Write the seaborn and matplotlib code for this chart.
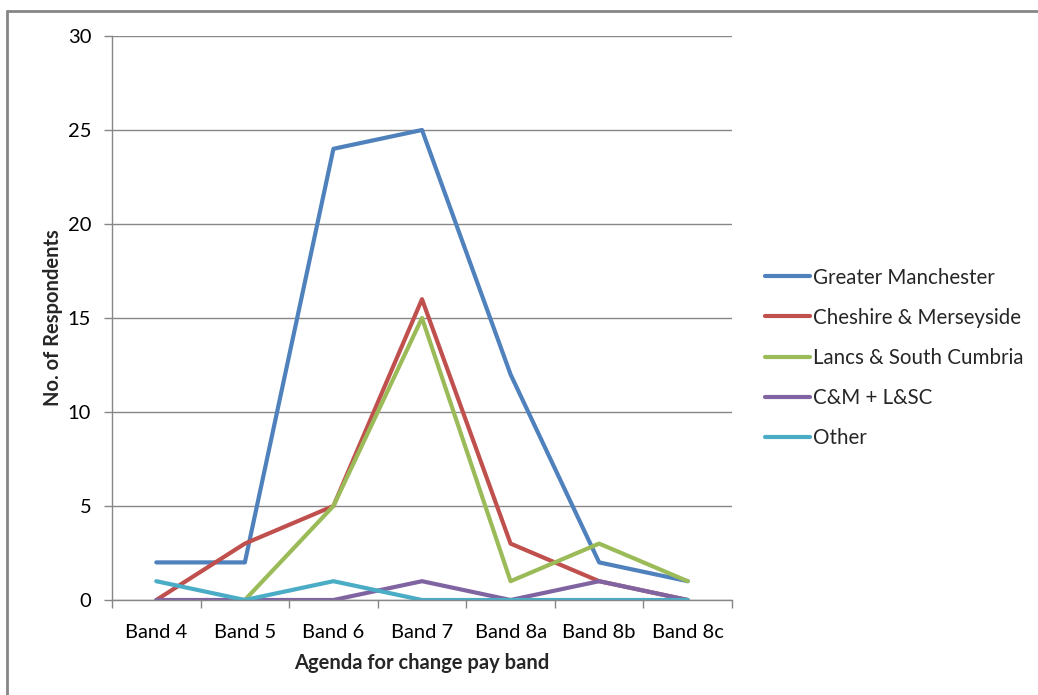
import numpy as np
import pandas as pd
import matplotlib
matplotlib.use("Agg")
import matplotlib.pyplot as plt
from matplotlib.lines import Line2D
from matplotlib.ticker import FixedLocator, NullFormatter
import seaborn as sns

bands = ["Band 4", "Band 5", "Band 6", "Band 7", "Band 8a", "Band 8b", "Band 8c"]
greater_manchester = [2, 2, 24, 25, 12, 2, 1]
cheshire_merseyside = [0, 3, 5, 16, 3, 1, 0]
lancs_south_cumbria = [np.nan, 0, 5, 15, 1, 3, 1]
cm_lsc = [0, 0, 0, 1, 0, 1, 0]
other = [1, 0, 1, 0, 0, 0, 0]

series_names = ["Greater Manchester", "Cheshire & Merseyside",
                "Lancs & South Cumbria", "C&M + L&SC", "Other"]
series_values = [greater_manchester, cheshire_merseyside,
                 lancs_south_cumbria, cm_lsc, other]
colors = ["#4F81BD", "#C0504D", "#9BBB59", "#8064A2", "#4BACC6"]

rows = []
for name, vals in zip(series_names, series_values):
    for i, v in enumerate(vals):
        rows.append({"band": i, "region": name, "count": v})
df = pd.DataFrame(rows)

sns.set_theme(style="white")
plt.rcParams["font.family"] = ["Lato", "DejaVu Sans"]

fig = plt.figure(figsize=(10.38, 6.95), dpi=100)
ax = fig.add_axes([112 / 1038, 1 - 600 / 695, 620 / 1038, 564 / 695])

for name, color in zip(series_names, colors):
    sub = df[df["region"] == name].dropna()
    sns.lineplot(data=sub, x="band", y="count", color=color, linewidth=3,
                 ax=ax, legend=False, estimator=None, sort=True)

ax.set_xlim(-0.5, len(bands) - 0.5)
ax.set_ylim(0, 30)
ax.set_yticks(range(0, 31, 5))
ax.yaxis.grid(True, color="#868686", linewidth=1)
ax.set_axisbelow(True)
for s in ["top", "right"]:
    ax.spines[s].set_visible(False)
for s in ["left", "bottom"]:
    ax.spines[s].set_color("#868686")
    ax.spines[s].set_linewidth(1)

ax.set_xticks(range(len(bands)))
ax.set_xticklabels(bands)
ax.xaxis.set_minor_locator(FixedLocator(np.arange(-0.5, len(bands), 1.0)))
ax.xaxis.set_minor_formatter(NullFormatter())
ax.tick_params(axis="x", which="major", length=0, pad=17, labelsize=14.5, colors="#000000")
ax.tick_params(axis="x", which="minor", length=6, width=1, color="#868686", bottom=True)
ax.tick_params(axis="y", which="major", length=6, width=1, color="#868686", left=True,
               labelsize=14.5, pad=9, labelcolor="#000000")

ax.set_xlabel("Agenda for change pay band", fontsize=14.5, fontweight="bold", labelpad=9)
ax.set_ylabel("No. of Respondents", fontsize=14.5, fontweight="bold", labelpad=3)

handles = [Line2D([0], [0], color=c, linewidth=3) for c in colors]
fig.legend(handles, series_names, loc="upper left",
           bbox_to_anchor=(746 / 1038, 1 - 249 / 695), frameon=False,
           fontsize=14.8, handlelength=2.2, handletextpad=0.15, labelspacing=0.98)

# chart-area border on the left and top edges
fig.add_artist(Line2D([7 / 1038, 7 / 1038], [0, 1 - 11 / 695], transform=fig.transFigure,
                      color="#868686", linewidth=2))
fig.add_artist(Line2D([7 / 1038, 1], [1 - 11 / 695, 1 - 11 / 695], transform=fig.transFigure,
                      color="#868686", linewidth=2))

fig.savefig("out.png", dpi=100)
